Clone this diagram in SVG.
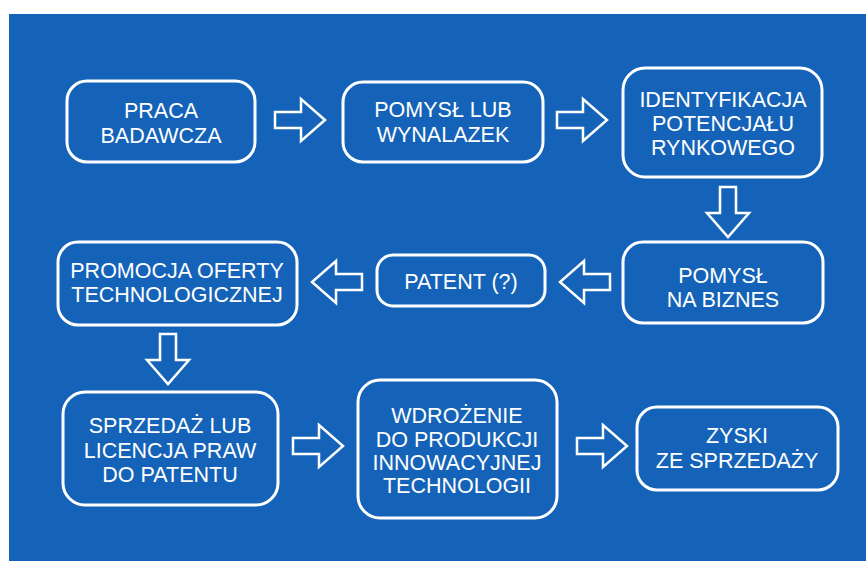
<svg xmlns="http://www.w3.org/2000/svg" width="866" height="561" viewBox="0 0 866 561">
<style>
.box{fill:none;stroke:#fff;stroke-width:3}
.t{font-family:"Liberation Sans",Arial,sans-serif;font-size:21.5px;fill:#fff;text-anchor:middle}
.arr{fill:none;stroke:#fff;stroke-width:2.5;stroke-linejoin:miter}
</style>
<defs>
<path id="arrow" class="arr" d="M0,-8 H26 V-21 L50,0 L26,21 V8 H0 Z"/>
</defs>
<rect x="0" y="0" width="866" height="561" fill="#fff"/>
<rect x="9" y="14" width="857" height="547" fill="#1563B8"/>
<g id="connectors">
<use href="#arrow" transform="translate(275,120)"/>
<use href="#arrow" transform="translate(557,120)"/>
<use href="#arrow" transform="translate(728,187) rotate(90)"/>
<use href="#arrow" transform="translate(610,282) rotate(180)"/>
<use href="#arrow" transform="translate(362,282) rotate(180)"/>
<use href="#arrow" transform="translate(168,334) rotate(90)"/>
<use href="#arrow" transform="translate(293,446)"/>
<use href="#arrow" transform="translate(577,446)"/>
</g>
<g id="praca">
<rect class="box" x="67" y="81" width="188" height="81" rx="20"/>
<text class="t" x="161" y="118">PRACA</text>
<text class="t" x="161" y="143">BADAWCZA</text>
</g>
<g id="pomysl">
<rect class="box" x="343" y="82" width="200" height="80" rx="20"/>
<text class="t" x="443" y="117">POMYSŁ LUB</text>
<text class="t" x="443" y="142">WYNALAZEK</text>
</g>
<g id="identyfikacja">
<rect class="box" x="623" y="68" width="199" height="109" rx="22"/>
<text class="t" x="723" y="107">IDENTYFIKACJA</text>
<text class="t" x="723" y="131">POTENCJAŁU</text>
<text class="t" x="723" y="155">RYNKOWEGO</text>
</g>
<g id="biznes">
<rect class="box" x="623" y="242" width="200" height="81" rx="20"/>
<text class="t" x="723" y="283">POMYSŁ</text>
<text class="t" x="723" y="307">NA BIZNES</text>
</g>
<g id="patent">
<rect class="box" x="377" y="255" width="168" height="51" rx="16"/>
<text class="t" x="461" y="289">PATENT (?)</text>
</g>
<g id="promocja">
<rect class="box" x="58" y="242" width="239" height="83" rx="20"/>
<text class="t" x="177" y="278">PROMOCJA OFERTY</text>
<text class="t" x="177" y="302">TECHNOLOGICZNEJ</text>
</g>
<g id="sprzedaz">
<rect class="box" x="63" y="392" width="215" height="113" rx="22"/>
<text class="t" x="170" y="433">SPRZEDAŻ LUB</text>
<text class="t" x="170" y="458">LICENCJA PRAW</text>
<text class="t" x="170" y="482">DO PATENTU</text>
</g>
<g id="wdrozenie">
<rect class="box" x="358" y="380" width="199" height="138" rx="22"/>
<text class="t" x="457" y="423">WDROŻENIE</text>
<text class="t" x="457" y="447">DO PRODUKCJI</text>
<text class="t" x="457" y="470">INNOWACYJNEJ</text>
<text class="t" x="457" y="493">TECHNOLOGII</text>
</g>
<g id="zyski">
<rect class="box" x="637" y="407" width="201" height="83" rx="20"/>
<text class="t" x="737" y="443">ZYSKI</text>
<text class="t" x="737" y="468">ZE SPRZEDAŻY</text>
</g>
</svg>
